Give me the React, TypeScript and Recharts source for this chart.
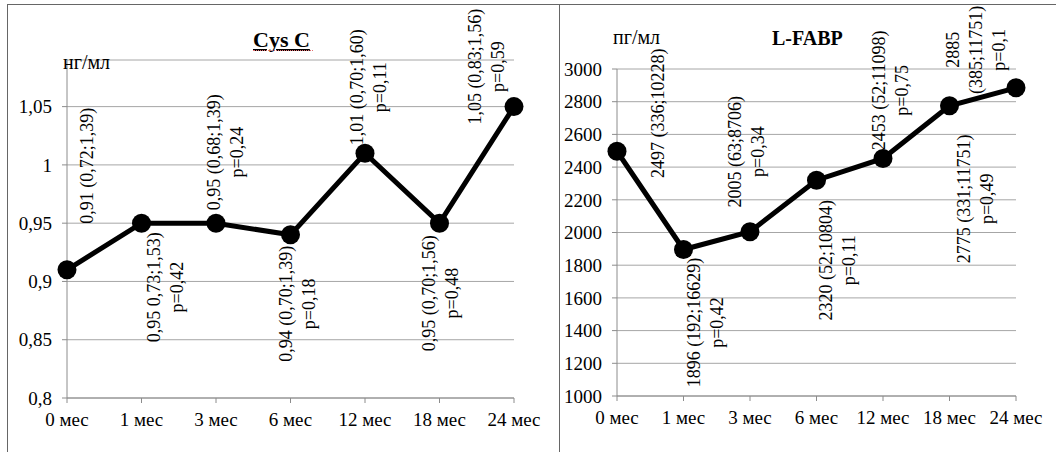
import React from 'react';
import { LineChart, Line, XAxis, YAxis, CartesianGrid, LabelList } from 'recharts';

// периоды наблюдения
const months = ['0 мес', '1 мес', '3 мес', '6 мес', '12 мес', '18 мес', '24 мес'];

// Cys C, нг/мл
const cysValues = [0.91, 0.95, 0.95, 0.94, 1.01, 0.95, 1.05];
const cysTicks = [0.8, 0.85, 0.9, 0.95, 1, 1.05];
const cysNotes = [
  ['0,91 (0,72;1,39)'],
  ['0,95 0,73;1,53)', 'p=0,42'],
  ['0,95 (0,68;1,39)', 'p=0,24'],
  ['0,94 (0,70;1,39)', 'p=0,18'],
  ['1,01 (0,70;1,60)', 'p=0,11'],
  ['0,95 (0,70;1,56)', 'p=0,48'],
  ['1,05 (0,83;1,56)', 'p=0,59'],
];

// L-FABP, пг/мл
const fabpValues = [2497, 1896, 2005, 2320, 2453, 2775, 2885];
const fabpTicks = [1000, 1200, 1400, 1600, 1800, 2000, 2200, 2400, 2600, 2800, 3000];
const fabpNotes = [
  ['2497 (336;10228)'],
  ['1896 (192;16629)', 'p=0,42'],
  ['2005 (63;8706)', 'p=0,34'],
  ['2320 (52;10804)', 'p=0,11'],
  ['2453 (52;11098)', 'p=0,75'],
  ['2775 (331;11751)', 'p=0,49'],
  ['2885', '(385;11751)', 'p=0,1'],
];

// смещение центра подписи относительно точки
const cysNoteShift = [[20, -104], [24, 64], [9, -71], [6.5, 69], [3.5, -66], [1, 70], [-27.5, -40]];
const fabpNoteShift = [[41, -38], [22, 73], [-3.5, -80], [20.5, 80], [7, -68], [25.5, 93], [-40.5, -38]];

const FONT = '"Liberation Serif", "Times New Roman", serif';
const GRID = '#a6a6a6';
const AXIS = '#8c8c8c';

const cysData = months.map((m, i) => ({ month: m, value: cysValues[i] }));
const fabpData = months.map((m, i) => ({ month: m, value: fabpValues[i] }));

// вертикальная подпись точки
function makeNote(notes: string[][], shift: number[][]) {
  return (props: any) => {
    const i = props.index;
    if (i == null || !notes[i]) return null;
    const px = props.x ?? props.viewBox?.x;
    const py = props.y ?? props.viewBox?.y;
    const cx = px + shift[i][0];
    const cy = py + shift[i][1];
    const lines = notes[i];
    const lh = 23;
    const first = -((lines.length - 1) * lh) / 2;
    return (
      <text
        x={cx}
        y={cy}
        transform={`rotate(-90, ${cx}, ${cy})`}
        textAnchor="middle"
        fontFamily={FONT}
        fontSize={18}
        fill="#000"
      >
        {lines.map((t, k) => (
          <tspan key={k} x={cx} y={cy + first + k * lh} dy="0.35em">{t}</tspan>
        ))}
      </text>
    );
  };
}

const tickStyle = { fontFamily: FONT, fontSize: 19, fill: '#000' };
const comma = (v: number) => String(v).replace('.', ',');

function CysChart() {
  return (
    <LineChart width={559} height={452} data={cysData} margin={{ top: 60, right: 45, bottom: 0, left: 7 }}>
      <CartesianGrid vertical={false} stroke={GRID} />
      <XAxis
        dataKey="month"
        height={54}
        tick={tickStyle}
        tickSize={5}
        tickMargin={10}
        axisLine={{ stroke: AXIS }}
        tickLine={{ stroke: AXIS }}
        interval={0}
      />
      <YAxis
        width={60}
        domain={[0.8, 1.09]}
        ticks={cysTicks}
        tickFormatter={comma}
        tick={tickStyle}
        tickSize={5}
        tickMargin={10}
        axisLine={{ stroke: AXIS }}
        tickLine={{ stroke: AXIS }}
      />
      <Line
        dataKey="value"
        stroke="#000"
        strokeWidth={5}
        dot={{ r: 9.5, fill: '#000', stroke: '#000', strokeWidth: 0 }}
        activeDot={false}
        isAnimationActive={false}
      >
        <LabelList dataKey="value" content={makeNote(cysNotes, cysNoteShift)} />
      </Line>
    </LineChart>
  );
}

function FabpChart() {
  return (
    <LineChart width={497} height={452} data={fabpData} margin={{ top: 69, right: 40, bottom: 0, left: 0 }}>
      <CartesianGrid vertical={false} stroke={GRID} />
      <XAxis
        dataKey="month"
        height={56}
        tick={tickStyle}
        tickSize={5}
        tickMargin={10}
        axisLine={{ stroke: AXIS }}
        tickLine={{ stroke: AXIS }}
        interval={0}
      />
      <YAxis
        width={58}
        domain={[1000, 3000]}
        ticks={fabpTicks}
        tick={tickStyle}
        tickSize={5}
        tickMargin={10}
        axisLine={{ stroke: AXIS }}
        tickLine={{ stroke: AXIS }}
      />
      <Line
        dataKey="value"
        stroke="#000"
        strokeWidth={5}
        dot={{ r: 9.5, fill: '#000', stroke: '#000', strokeWidth: 0 }}
        activeDot={false}
        isAnimationActive={false}
      >
        <LabelList dataKey="value" content={makeNote(fabpNotes, fabpNoteShift)} />
      </Line>
    </LineChart>
  );
}

const textBox = (left: number, top: number, size: number, bold = false): React.CSSProperties => ({
  position: 'absolute',
  left,
  top,
  fontFamily: FONT,
  fontSize: size,
  lineHeight: `${size + 2}px`,
  fontWeight: bold ? 'bold' : 'normal',
  color: '#000',
  whiteSpace: 'nowrap',
});

export default function App() {
  return (
    <div style={{ position: 'absolute', left: 0, top: 0, width: 1056, height: 452, background: '#fff', overflow: 'hidden', fontFamily: FONT }}>
      {/* рамки */}
      <div style={{ position: 'absolute', left: 7, top: 4, width: 1049, height: 1, background: '#666' }} />
      <div style={{ position: 'absolute', left: 7, top: 4, width: 1, height: 448, background: '#666' }} />
      <div style={{ position: 'absolute', left: 559, top: 4, width: 1, height: 448, background: '#666' }} />

      <div style={{ position: 'absolute', left: 0, top: 0 }}>
        <CysChart />
      </div>
      <div style={{ position: 'absolute', left: 559, top: 0 }}>
        <FabpChart />
      </div>

      <div style={textBox(63, 51, 20)}>нг/мл</div>
      <div style={{ ...textBox(253, 28, 22, true), textDecoration: 'underline' }}>Cys C</div>
      <div style={{ position: 'absolute', left: 253, top: 50, width: 60, borderBottom: '1px dotted #e07070' }} />

      <div style={textBox(613, 26, 20)}>пг/мл</div>
      <div style={textBox(772, 27, 20, true)}>L-FABP</div>
    </div>
  );
}
